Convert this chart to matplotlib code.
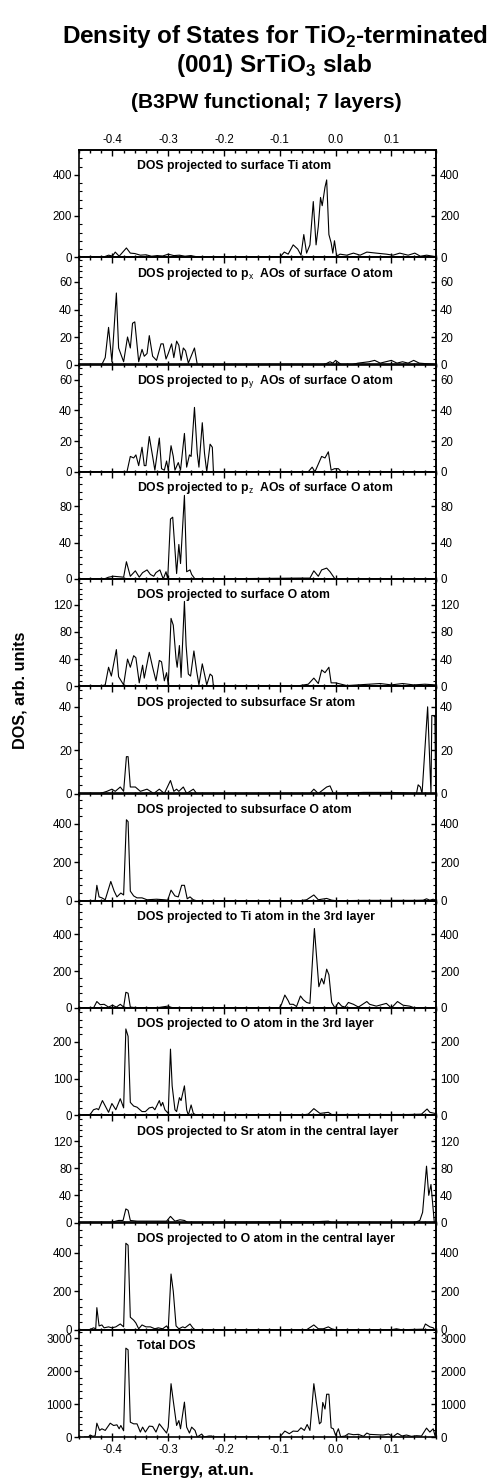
import matplotlib
matplotlib.use('Agg')
import matplotlib.pyplot as plt
from matplotlib.ticker import MultipleLocator, FixedLocator

plt.rcParams['font.family'] = ['Liberation Sans', 'DejaVu Sans']
plt.rcParams['mathtext.fontset'] = 'custom'
plt.rcParams['mathtext.rm'] = 'Liberation Sans'
plt.rcParams['mathtext.bf'] = 'Liberation Sans:bold'
plt.rcParams['axes.unicode_minus'] = False

# ---- data: (energy, DOS) vertices ----
ti_s_E = [-0.45, -0.415, -0.407, -0.4, -0.395, -0.388, -0.375, -0.368, -0.36, -0.35, -0.34, -0.33,
          -0.32, -0.31, -0.3, -0.29, -0.28, -0.27, -0.26, -0.25, -0.24, -0.1, -0.092, -0.085,
          -0.076, -0.068, -0.062, -0.057, -0.052, -0.046, -0.04, -0.035, -0.031, -0.027,
          -0.024, -0.019, -0.016, -0.012, -0.008, -0.005, -0.002, 0.002, 0.008, 0.02, 0.032,
          0.044, 0.056, 0.073, 0.091, 0.103, 0.115, 0.13, 0.142, 0.152, 0.163, 0.18]
ti_s_D = [0, 2, 10, 6, 25, 5, 45, 20, 18, 10, 12, 5, 8, 6, 15, 8, 10, 5, 8, 3, 0, 0, 25, 15,
          60, 40, 10, 110, 20, 60, 270, 60, 150, 290, 250, 340, 375, 110, 70, 20, 80, 5, 15,
          10, 20, 10, 25, 20, 15, 10, 20, 10, 20, 5, 10, 3]

px_E = [-0.45, -0.419, -0.413, -0.407, -0.401, -0.393, -0.389, -0.38, -0.373, -0.368, -0.364,
        -0.36, -0.353, -0.347, -0.343, -0.338, -0.334, -0.328, -0.321, -0.313, -0.309, -0.304,
        -0.3, -0.294, -0.29, -0.285, -0.281, -0.277, -0.273, -0.269, -0.264, -0.253, -0.248,
        -0.02, -0.01, -0.005, 0.0, 0.01, 0.03, 0.04, 0.06, 0.07, 0.08, 0.09, 0.1, 0.11, 0.12,
        0.13, 0.14, 0.15, 0.18]
px_D = [0, 0, 5, 27, 2, 52, 12, 2, 20, 12, 30, 31, 2, 11, 6, 8, 21, 6, 3, 15, 15, 4, 8, 15, 5,
        17, 14, 3, 12, 10, 1, 12, 0, 0, 2, 1, 3, 0, 0, 1, 2, 3, 1, 2, 3, 1, 2, 1, 3, 1, 0]

py_E = [-0.45, -0.374, -0.368, -0.362, -0.358, -0.353, -0.347, -0.343, -0.34, -0.334, -0.328,
        -0.324, -0.316, -0.312, -0.307, -0.303, -0.3, -0.295, -0.291, -0.288, -0.282, -0.278,
        -0.271, -0.267, -0.262, -0.259, -0.253, -0.248, -0.245, -0.239, -0.235, -0.231,
        -0.225, -0.221, -0.219, -0.049, -0.042, -0.037, -0.025, -0.019, -0.013, -0.008,
        -0.002, 0.005, 0.01, 0.18]
py_D = [0, 0, 10, 9, 11, 4, 16, 4, 4, 23, 10, 1, 22, 2, 1, 7, 1, 17, 10, 1, 6, 1, 25, 3, 11,
        10, 42, 12, 3, 32, 12, 0, 18, 16, 0, 0, 3, 0, 10, 9, 13, 1, 2, 2, 0, 0]

pz_E = [-0.45, -0.415, -0.407, -0.398, -0.38, -0.375, -0.368, -0.359, -0.352, -0.346, -0.338,
        -0.332, -0.326, -0.322, -0.315, -0.309, -0.304, -0.301, -0.296, -0.292, -0.285,
        -0.281, -0.278, -0.271, -0.267, -0.261, -0.258, -0.252, -0.064, -0.046, -0.039,
        -0.031, -0.025, -0.016, -0.01, -0.001, 0.18]
pz_D = [0, 0, 2, 3, 2, 19, 3, 9, 2, 7, 10, 5, 3, 7, 10, 0, 8, 0, 66, 68, 6, 38, 17, 92, 8,
        10, 5, 0, 1, 1, 9, 3, 10, 12, 8, 0, 0]

os_E = [-0.45, -0.422, -0.413, -0.407, -0.402, -0.393, -0.389, -0.38, -0.373, -0.368, -0.362,
        -0.358, -0.352, -0.346, -0.343, -0.334, -0.328, -0.322, -0.316, -0.312, -0.307,
        -0.303, -0.3, -0.295, -0.291, -0.286, -0.284, -0.28, -0.277, -0.271, -0.268, -0.264,
        -0.26, -0.254, -0.249, -0.245, -0.239, -0.234, -0.231, -0.225, -0.221, -0.219,
        -0.064, -0.049, -0.039, -0.031, -0.025, -0.019, -0.012, -0.008, 0.0, 0.005, 0.02,
        0.04, 0.06, 0.08, 0.1, 0.12, 0.14, 0.16, 0.18]
os_D = [0, 0, 2, 28, 15, 54, 14, 2, 40, 28, 45, 42, 5, 31, 12, 50, 28, 8, 38, 36, 8, 20, 2,
        100, 90, 40, 28, 60, 13, 125, 60, 18, 15, 52, 22, 2, 33, 14, 2, 18, 15, 0, 1, 3, 12,
        4, 24, 20, 28, 5, 5, 4, 1, 2, 3, 4, 2, 4, 2, 3, 2]

srs_E = [-0.45, -0.422, -0.41, -0.401, -0.395, -0.386, -0.38, -0.375, -0.372, -0.368, -0.359,
         -0.35, -0.338, -0.326, -0.316, -0.307, -0.296, -0.29, -0.285, -0.281, -0.273,
         -0.267, -0.255, -0.249, -0.046, -0.039, -0.031, -0.016, -0.01, -0.004, 0.05, 0.1,
         0.145, 0.148, 0.152, 0.155, 0.165, 0.171, 0.1725, 0.178, 0.1795]
srs_D = [0, 0, 1, 2, 1, 3, 1, 17, 17, 3, 3, 1, 2, 0, 2, 0, 6, 1, 2, 1, 3, 0, 2, 0, 0, 2, 0, 3,
         3.5, 0, 0.5, 0.5, 0, 4, 3, 0, 40, 0, 36, 36, 0]

osub_E = [-0.45, -0.44, -0.431, -0.428, -0.424, -0.419, -0.413, -0.403, -0.397, -0.392,
          -0.385, -0.38, -0.375, -0.372, -0.368, -0.362, -0.356, -0.347, -0.338, -0.321,
          -0.307, -0.301, -0.295, -0.288, -0.282, -0.276, -0.271, -0.266, -0.261, -0.255,
          -0.249, -0.064, -0.052, -0.039, -0.031, -0.025, -0.016, -0.007, 0.003, 0.05,
          0.1, 0.14, 0.157, 0.163, 0.169, 0.175, 0.18]
osub_D = [0, 0, 2, 80, 20, 15, 5, 100, 50, 20, 40, 30, 420, 410, 50, 25, 15, 15, 5, 8, 5, 3,
          55, 25, 20, 80, 80, 10, 20, 5, 0, 0, 5, 30, 5, 8, 12, 3, 0, 2, 2, 2, 3, 10, 3, 8, 3]

ti3_E = [-0.45, -0.434, -0.428, -0.422, -0.415, -0.407, -0.4, -0.393, -0.386, -0.38, -0.376,
         -0.372, -0.368, -0.362, -0.344, -0.321, -0.301, -0.294, -0.285, -0.101, -0.097,
         -0.091, -0.085, -0.082, -0.076, -0.07, -0.063, -0.058, -0.052, -0.046, -0.038,
         -0.03, -0.025, -0.021, -0.016, -0.012, -0.007, -0.001, 0.005, 0.011, 0.017, 0.023,
         0.032, 0.041, 0.056, 0.061, 0.073, 0.091, 0.1, 0.111, 0.121, 0.133, 0.142, 0.18]
ti3_D = [0, 0, 35, 18, 20, 5, 15, 5, 20, 5, 85, 80, 5, 3, 1, 1, 10, 3, 0, 0, 20, 70, 40, 20,
         20, 8, 65, 45, 30, 25, 430, 115, 160, 130, 210, 180, 30, 0, 30, 10, 5, 30, 20, 5, 35,
         20, 10, 25, 0, 35, 15, 10, 0, 0]

o3_E = [-0.45, -0.441, -0.434, -0.428, -0.425, -0.418, -0.407, -0.401, -0.394, -0.386, -0.38,
        -0.376, -0.372, -0.368, -0.362, -0.356, -0.347, -0.341, -0.334, -0.328, -0.324,
        -0.316, -0.313, -0.31, -0.306, -0.3, -0.296, -0.293, -0.288, -0.285, -0.28, -0.277,
        -0.271, -0.267, -0.264, -0.259, -0.255, -0.249, -0.064, -0.049, -0.039, -0.028,
        -0.013, -0.007, 0.03, 0.08, 0.13, 0.154, 0.164, 0.169, 0.178]
o3_D = [0, 0, 15, 18, 15, 40, 8, 32, 15, 45, 20, 235, 215, 35, 25, 22, 10, 10, 20, 22, 15, 40,
        25, 35, 15, 5, 180, 80, 15, 10, 48, 40, 80, 15, 0, 28, 5, 0, 0, 3, 18, 5, 8, 2, 2, 2,
        2, 3, 17, 8, 5]

src_E = [-0.45, -0.404, -0.389, -0.381, -0.376, -0.372, -0.368, -0.356, -0.332, -0.303,
         -0.296, -0.288, -0.279, -0.271, -0.265, -0.04, -0.013, -0.007, 0.142, 0.151, 0.156,
         0.163, 0.167, 0.171, 0.177, 0.18]
src_D = [0, 0, 3, 3, 20, 18, 3, 2, 2, 2, 9, 2, 4, 3, 0, 1, 2, 0, 0, 3, 15, 83, 40, 56, 0, 0]

oc_E = [-0.45, -0.441, -0.434, -0.43, -0.428, -0.424, -0.419, -0.415, -0.407, -0.401, -0.394,
        -0.386, -0.38, -0.376, -0.372, -0.368, -0.362, -0.358, -0.353, -0.347, -0.34,
        -0.332, -0.324, -0.318, -0.31, -0.303, -0.3, -0.295, -0.291, -0.286, -0.281, -0.274,
        -0.27, -0.261, -0.256, -0.252, -0.052, -0.039, -0.031, -0.022, -0.013, -0.007,
        0.0, 0.1, 0.109, 0.118, 0.157, 0.161, 0.169, 0.175, 0.178]
oc_D = [0, 0, 10, 5, 115, 20, 25, 10, 15, 10, 15, 30, 15, 450, 440, 65, 50, 35, 5, 25, 15,
        15, 5, 10, 5, 20, 5, 290, 200, 20, 5, 15, 10, 30, 10, 0, 0, 25, 5, 5, 15, 5, 0, 0, 5,
        0, 3, 30, 15, 10, 0]

tot_E = [-0.45, -0.443, -0.44, -0.435, -0.431, -0.428, -0.423, -0.419, -0.413, -0.404, -0.398,
         -0.392, -0.388, -0.385, -0.38, -0.376, -0.372, -0.368, -0.362, -0.356, -0.35, -0.346,
         -0.341, -0.334, -0.328, -0.322, -0.316, -0.309, -0.303, -0.3, -0.295, -0.291, -0.285,
         -0.281, -0.278, -0.271, -0.267, -0.262, -0.258, -0.252, -0.248, -0.24, -0.236,
         -0.227, -0.222, -0.219, -0.101, -0.097, -0.091, -0.083, -0.076, -0.068, -0.062,
         -0.056, -0.051, -0.046, -0.039, -0.034, -0.029, -0.026, -0.023, -0.019, -0.016,
         -0.012, -0.008, -0.004, 0.0, 0.005, 0.009, 0.017, 0.023, 0.032, 0.041, 0.05, 0.056,
         0.061, 0.073, 0.085, 0.095, 0.103, 0.111, 0.119, 0.127, 0.136, 0.145, 0.154, 0.163,
         0.169, 0.175, 0.178]
tot_D = [0, 0, 60, 20, 40, 420, 200, 250, 200, 420, 350, 370, 250, 350, 190, 2700, 2650, 450,
         400, 400, 150, 300, 150, 330, 320, 150, 400, 250, 120, 300, 1620, 1100, 350, 500, 250,
         1060, 300, 120, 300, 200, 0, 90, 0, 30, 30, 0, 0, 60, 180, 100, 180, 170, 280, 200,
         380, 200, 1620, 1000, 400, 450, 1050, 850, 1300, 1300, 280, 250, 50, 250, 10, 30, 100,
         70, 80, 20, 120, 80, 70, 60, 90, 10, 110, 30, 60, 20, 40, 30, 270, 150, 250, 50]

titles = ['DOS projected to surface Ti atom',
          r'DOS projected to p$_\mathrm{x}$  AOs of surface O atom',
          r'DOS projected to p$_\mathrm{y}$  AOs of surface O atom',
          r'DOS projected to p$_\mathrm{z}$  AOs of surface O atom',
          'DOS projected to surface O atom',
          'DOS projected to subsurface Sr atom',
          'DOS projected to subsurface O atom',
          'DOS projected to Ti atom in the 3rd layer',
          'DOS projected to O atom in the 3rd layer',
          'DOS projected to Sr atom in the central layer',
          'DOS projected to O atom in the central layer',
          'Total DOS']
y_max = [520, 78, 70, 118, 158, 49.5, 556, 580, 292, 158, 558, 3260]
y_ticks = [[0, 200, 400], [0, 20, 40, 60], [0, 20, 40, 60], [0, 40, 80], [0, 40, 80, 120],
           [0, 20, 40], [0, 200, 400], [0, 200, 400], [0, 100, 200], [0, 40, 80, 120],
           [0, 200, 400], [0, 1000, 2000, 3000]]

series = [(ti_s_E, ti_s_D), (px_E, px_D), (py_E, py_D), (pz_E, pz_D), (os_E, os_D),
          (srs_E, srs_D), (osub_E, osub_D), (ti3_E, ti3_D), (o3_E, o3_D),
          (src_E, src_D), (oc_E, oc_D), (tot_E, tot_D)]

W, H = 496, 1481
fig = plt.figure(figsize=(W / 100, H / 100), dpi=100)

left = 79 / W
width = 357 / W
top_px = 150
ph = 107.25

tick_fs = 8.3
fmt = lambda v, p: f'{v:.1f}'.replace('-0.0', '0.0')
for i, ((e, d), lab) in enumerate(zip(series, titles)):
    bottom = 1 - (top_px + (i + 1) * ph) / H
    ax = fig.add_axes([left, bottom, width, ph / H])
    ax.plot(e, d, color='black', lw=0.8)
    ax.set_xlim(-0.46, 0.18)
    ax.set_ylim(0, y_max[i])
    for s in ax.spines.values():
        s.set_linewidth(1.2)
    step = y_ticks[i][1]
    minors = [k * step / 5 for k in range(int(y_max[i] / (step / 5)) + 1)]
    ax.xaxis.set_major_locator(MultipleLocator(0.1))
    ax.xaxis.set_minor_locator(MultipleLocator(0.02))
    ax.yaxis.set_major_locator(FixedLocator(y_ticks[i]))
    ax.yaxis.set_minor_locator(FixedLocator(minors))
    ax.tick_params(axis='x', which='both', direction='inout', labelbottom=(i == 11),
                   labelsize=tick_fs, width=1.0, pad=2)
    ax.tick_params(axis='x', which='major', length=6)
    ax.tick_params(axis='x', which='minor', length=3.5)
    ax.tick_params(axis='y', which='major', direction='out', length=3.5, width=1.0,
                   labelsize=tick_fs, pad=1.5)
    ax.tick_params(axis='y', which='minor', direction='in', length=2.5, width=0.8)
    ax.xaxis.set_major_formatter(fmt)

    secx = ax.secondary_xaxis('top')
    secx.xaxis.set_major_locator(MultipleLocator(0.1))
    secx.xaxis.set_minor_locator(MultipleLocator(0.02))
    secx.tick_params(which='both', direction='in', labeltop=(i == 0), labelsize=tick_fs,
                     width=1.0, pad=3)
    secx.tick_params(which='major', length=4)
    secx.tick_params(which='minor', length=2.5)
    secx.xaxis.set_major_formatter(fmt)
    secx.spines['top'].set_linewidth(1.2)

    secy = ax.secondary_yaxis('right')
    secy.yaxis.set_major_locator(FixedLocator(y_ticks[i]))
    secy.yaxis.set_minor_locator(FixedLocator(minors))
    secy.tick_params(which='major', direction='in', length=3.5, width=1.0,
                     labelsize=tick_fs, pad=3)
    secy.tick_params(which='minor', direction='in', length=2.5, width=0.8)
    secy.spines['right'].set_linewidth(1.2)

    ax.text(0.163, 1 - 16.5 / ph, lab, transform=ax.transAxes, fontsize=8.8,
            fontweight='bold', va='center', ha='left')

fig.text(275 / W, 1 - 43 / H, r'Density of States for TiO$_\mathbf{2}$-terminated',
         fontsize=17.5, fontweight='bold', ha='center', va='baseline')
fig.text(274 / W, 1 - 72 / H, r'(001) SrTiO$_\mathbf{3}$ slab',
         fontsize=17.5, fontweight='bold', ha='center', va='baseline')
fig.text(266 / W, 1 - 108 / H, '(B3PW functional; 7 layers)',
         fontsize=15, fontweight='bold', ha='center', va='baseline')
fig.text(20 / W, 1 - 690 / H, 'DOS, arb. units', rotation=90, fontsize=11.7,
         fontweight='bold', ha='center', va='center')
fig.text(197.5 / W, 1 - 1471 / H, 'Energy, at.un.', fontsize=12.4,
         fontweight='bold', ha='center', va='center')

fig.savefig('out.png', dpi=100)
